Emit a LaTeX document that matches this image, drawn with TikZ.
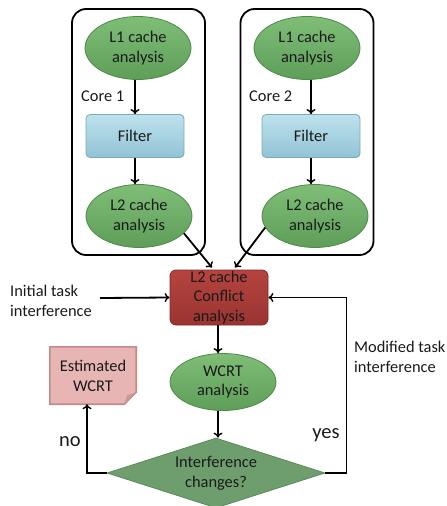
\documentclass[tikz,border=0pt]{standalone}
\usepackage{fontspec}
\setmainfont{Carlito}
\usetikzlibrary{shapes.geometric,arrows.meta}
\definecolor{gTop}{HTML}{80BE78}
\definecolor{gBot}{HTML}{5E9E58}
\definecolor{gLine}{HTML}{4C8A47}
\definecolor{bTop}{HTML}{BCE2EE}
\definecolor{bBot}{HTML}{92C3D5}
\definecolor{bLine}{HTML}{7AA9B8}
\definecolor{rTop}{HTML}{B5443F}
\definecolor{rBot}{HTML}{9A3431}
\definecolor{rLine}{HTML}{7E2A27}
\definecolor{pFill}{HTML}{E8B5B5}
\definecolor{pLine}{HTML}{C48A8A}
\definecolor{pFold}{HTML}{C99898}
\definecolor{dFill}{HTML}{6E9E6E}
\definecolor{dLine}{HTML}{5A8A5A}
\definecolor{txt}{HTML}{1A1A1A}
\begin{document}
\begin{tikzpicture}[x=1pt,y=-1pt,
  every node/.style={font=\fontsize{16.4}{19.8}\selectfont, text=txt, align=center, inner sep=0pt},
  ell/.style={ellipse, draw=gLine, line width=0.8pt, top color=gTop, bottom color=gBot, minimum width=106pt, minimum height=63pt},
  filt/.style={rectangle, rounded corners=4pt, draw=bLine, line width=0.8pt, top color=bTop, bottom color=bBot, minimum width=98pt, minimum height=43pt},
  corebox/.style={rectangle, rounded corners=14pt, draw=black, line width=1.8pt, minimum width=133pt, minimum height=246pt},
  arr/.style={line width=1.8pt, -{To[length=5pt,width=9pt,line width=1.4pt]}},
  big/.style={font=\fontsize{20.5}{24}\selectfont}
]
\useasboundingbox (0,0) rectangle (447,506);
% core boxes
\node[corebox] (c1) at (138.5,132) {};
\node[corebox] (c2) at (307,132) {};
% core 1
\node[ell] (l1a) at (138,48) {L1 cache\\analysis};
\node[filt] (f1) at (135,136) {Filter};
\node[ell] (l2a) at (139,216) {L2 cache\\analysis};
\node[anchor=west] (core1) at (81,96) {Core 1};
% core 2
\node[ell] (l1b) at (307,48) {L1 cache\\analysis};
\node[filt] (f2) at (311,136) {Filter};
\node[ell] (l2b) at (315,216) {L2 cache\\analysis};
\node[anchor=west] (core2) at (249,96) {Core 2};
% conflict
\node[rectangle, rounded corners=6pt, draw=rLine, line width=0.8pt, top color=rTop, bottom color=rBot, minimum width=98pt, minimum height=55pt] (conf) at (219,297.5) {L2 cache\\Conflict\\analysis};
% WCRT
\node[ell, minimum height=57pt] (wcrt) at (223,382) {WCRT\\analysis};
% diamond
\node[diamond, aspect=3, draw=dLine, fill=dFill, line width=0.8pt, minimum width=218pt, minimum height=70pt] (dia) at (216,473) {Interference\\changes?};
% note
\node[minimum width=86pt, minimum height=57pt] (est) at (93,375.5) {};
\fill[pFill] (est.north west) -- (est.north east) -- ([yshift=12pt]est.south east) -- ([xshift=-12pt]est.south east) -- (est.south west) -- cycle;
\draw[pLine, line width=1.6pt, line join=miter] (est.north west) -- (est.north east) -- ([yshift=12pt]est.south east) -- ([xshift=-12pt]est.south east) -- (est.south west) -- cycle;
\fill[pFold] ([yshift=12pt]est.south east) -- ([xshift=-12pt]est.south east) -- ([xshift=-9pt,yshift=9pt]est.south east) -- cycle;
\node (esttext) at (est) {Estimated\\WCRT};
% labels
\node[anchor=west, align=left] (init) at (10,301) {Initial task\\interference};
\node[anchor=west, align=left] (mod) at (354,357) {Modified task\\interference};
\node[big] (yes) at (326,435) {yes};
\node[big] (no) at (70,442) {no};
\coordinate (initend) at (100,298);
% connectors
\draw[arr] (f1.north |- l1a.south) -- (f1.north);
\draw[arr] (f1.south) -- (f1.south |- l2a.north);
\draw[arr] (f2.north |- l1b.south) -- (f2.north);
\draw[arr] (f2.south) -- (f2.south |- l2b.north);
\draw[arr] (l2a.-21) -- ([xshift=-7pt,yshift=2pt]conf.north);
\draw[arr] (l2b.-167) -- ([xshift=16pt,yshift=2pt]conf.north);
\draw[arr] (initend) -- (conf.west);
\draw[arr] ([xshift=-1pt]conf.south) -- ([xshift=-1pt]conf.south |- wcrt.north);
\draw[arr] ([xshift=2pt]dia.north |- wcrt.south) -- ([xshift=2pt]dia.north);
\draw[arr] (dia.east) -- ++(21,0) |- (conf.east);
\draw[arr] (dia.west) -| ([xshift=-6pt]est.south);
\end{tikzpicture}
\end{document}
